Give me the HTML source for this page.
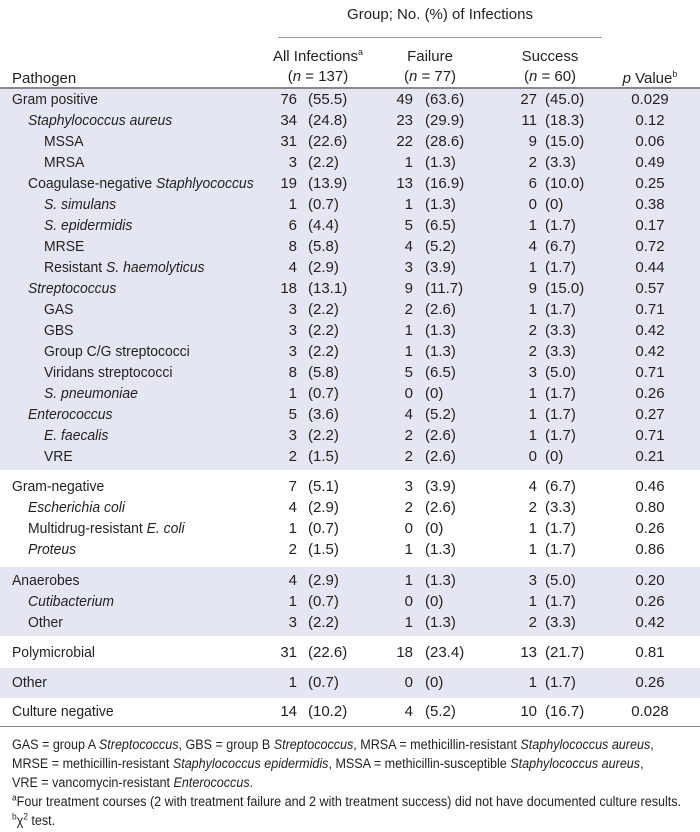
<!DOCTYPE html>
<html><head><meta charset="utf-8"><style>
body{margin:0;background:#fff;}
#c{position:relative;width:700px;height:832px;font-family:"Liberation Sans",sans-serif;color:#231f20;overflow:hidden}
.band{position:absolute;left:0;width:700px;background:#e4e7f1}
.r{position:absolute;left:0;width:700px;height:20px;font-size:15px;line-height:20px;white-space:nowrap}
.r span{position:absolute;top:0}
.n,.i1,.i2{transform:scaleX(0.93);transform-origin:0 0}
.n{left:12px}.i1{left:28px}.i2{left:44px}
.a{right:403px;text-align:right}.ap{left:308px}
.f{right:287px;text-align:right}.fp{left:425px}
.s{right:163px;text-align:right}.sp{left:545px}
.p{left:610px;width:80px;text-align:center}
.h{position:absolute;font-size:15px;line-height:20px;text-align:center;white-space:nowrap}
.fn{position:absolute;left:12px;font-size:13.5px;line-height:19px;white-space:nowrap;transform:scaleX(0.93);transform-origin:0 0}
sup{font-size:9px;line-height:0}
</style></head><body><div id="c">
<div class="h" style="left:278px;width:324px;top:5px">Group; No. (%) of Infections</div>
<div style="position:absolute;left:278px;width:324px;top:37px;height:1px;background:#999"></div>
<div class="h" style="left:258px;width:120px;top:47px">All Infections<sup>a</sup><br>(<i>n</i> = 137)</div>
<div class="h" style="left:380px;width:100px;top:47px">Failure<br>(<i>n</i> = 77)</div>
<div class="h" style="left:500px;width:100px;top:47px">Success<br>(<i>n</i> = 60)</div>
<div class="h" style="left:610px;width:80px;top:69px"><i>p</i> Value<sup>b</sup></div>
<div class="h" style="left:12px;top:69px;text-align:left">Pathogen</div>
<div style="position:absolute;left:0;width:700px;top:87px;height:2px;background:#888"></div>
<div class="band" style="top:89px;height:381px"></div>
<div class="band" style="top:567px;height:69px"></div>
<div class="band" style="top:668px;height:30px"></div>
<div style="position:absolute;left:0;width:700px;top:726px;height:1px;background:#888"></div>

<div class="r" style="top:90px"><span class="n">Gram positive</span><span class="a">76</span><span class="ap">(55.5)</span><span class="f">49</span><span class="fp">(63.6)</span><span class="s">27</span><span class="sp">(45.0)</span><span class="p">0.029</span></div>
<div class="r" style="top:111px"><span class="i1"><i>Staphylococcus aureus</i></span><span class="a">34</span><span class="ap">(24.8)</span><span class="f">23</span><span class="fp">(29.9)</span><span class="s">11</span><span class="sp">(18.3)</span><span class="p">0.12</span></div>
<div class="r" style="top:132px"><span class="i2">MSSA</span><span class="a">31</span><span class="ap">(22.6)</span><span class="f">22</span><span class="fp">(28.6)</span><span class="s">9</span><span class="sp">(15.0)</span><span class="p">0.06</span></div>
<div class="r" style="top:153px"><span class="i2">MRSA</span><span class="a">3</span><span class="ap">(2.2)</span><span class="f">1</span><span class="fp">(1.3)</span><span class="s">2</span><span class="sp">(3.3)</span><span class="p">0.49</span></div>
<div class="r" style="top:174px"><span class="i1">Coagulase-negative <i>Staphlyococcus</i></span><span class="a">19</span><span class="ap">(13.9)</span><span class="f">13</span><span class="fp">(16.9)</span><span class="s">6</span><span class="sp">(10.0)</span><span class="p">0.25</span></div>
<div class="r" style="top:195px"><span class="i2"><i>S. simulans</i></span><span class="a">1</span><span class="ap">(0.7)</span><span class="f">1</span><span class="fp">(1.3)</span><span class="s">0</span><span class="sp">(0)</span><span class="p">0.38</span></div>
<div class="r" style="top:216px"><span class="i2"><i>S. epidermidis</i></span><span class="a">6</span><span class="ap">(4.4)</span><span class="f">5</span><span class="fp">(6.5)</span><span class="s">1</span><span class="sp">(1.7)</span><span class="p">0.17</span></div>
<div class="r" style="top:237px"><span class="i2">MRSE</span><span class="a">8</span><span class="ap">(5.8)</span><span class="f">4</span><span class="fp">(5.2)</span><span class="s">4</span><span class="sp">(6.7)</span><span class="p">0.72</span></div>
<div class="r" style="top:258px"><span class="i2">Resistant <i>S. haemolyticus</i></span><span class="a">4</span><span class="ap">(2.9)</span><span class="f">3</span><span class="fp">(3.9)</span><span class="s">1</span><span class="sp">(1.7)</span><span class="p">0.44</span></div>
<div class="r" style="top:279px"><span class="i1"><i>Streptococcus</i></span><span class="a">18</span><span class="ap">(13.1)</span><span class="f">9</span><span class="fp">(11.7)</span><span class="s">9</span><span class="sp">(15.0)</span><span class="p">0.57</span></div>
<div class="r" style="top:300px"><span class="i2">GAS</span><span class="a">3</span><span class="ap">(2.2)</span><span class="f">2</span><span class="fp">(2.6)</span><span class="s">1</span><span class="sp">(1.7)</span><span class="p">0.71</span></div>
<div class="r" style="top:321px"><span class="i2">GBS</span><span class="a">3</span><span class="ap">(2.2)</span><span class="f">1</span><span class="fp">(1.3)</span><span class="s">2</span><span class="sp">(3.3)</span><span class="p">0.42</span></div>
<div class="r" style="top:342px"><span class="i2">Group C/G streptococci</span><span class="a">3</span><span class="ap">(2.2)</span><span class="f">1</span><span class="fp">(1.3)</span><span class="s">2</span><span class="sp">(3.3)</span><span class="p">0.42</span></div>
<div class="r" style="top:363px"><span class="i2">Viridans streptococci</span><span class="a">8</span><span class="ap">(5.8)</span><span class="f">5</span><span class="fp">(6.5)</span><span class="s">3</span><span class="sp">(5.0)</span><span class="p">0.71</span></div>
<div class="r" style="top:384px"><span class="i2"><i>S. pneumoniae</i></span><span class="a">1</span><span class="ap">(0.7)</span><span class="f">0</span><span class="fp">(0)</span><span class="s">1</span><span class="sp">(1.7)</span><span class="p">0.26</span></div>
<div class="r" style="top:405px"><span class="i1"><i>Enterococcus</i></span><span class="a">5</span><span class="ap">(3.6)</span><span class="f">4</span><span class="fp">(5.2)</span><span class="s">1</span><span class="sp">(1.7)</span><span class="p">0.27</span></div>
<div class="r" style="top:426px"><span class="i2"><i>E. faecalis</i></span><span class="a">3</span><span class="ap">(2.2)</span><span class="f">2</span><span class="fp">(2.6)</span><span class="s">1</span><span class="sp">(1.7)</span><span class="p">0.71</span></div>
<div class="r" style="top:447px"><span class="i2">VRE</span><span class="a">2</span><span class="ap">(1.5)</span><span class="f">2</span><span class="fp">(2.6)</span><span class="s">0</span><span class="sp">(0)</span><span class="p">0.21</span></div>

<div class="r" style="top:477px"><span class="n">Gram-negative</span><span class="a">7</span><span class="ap">(5.1)</span><span class="f">3</span><span class="fp">(3.9)</span><span class="s">4</span><span class="sp">(6.7)</span><span class="p">0.46</span></div>
<div class="r" style="top:498px"><span class="i1"><i>Escherichia coli</i></span><span class="a">4</span><span class="ap">(2.9)</span><span class="f">2</span><span class="fp">(2.6)</span><span class="s">2</span><span class="sp">(3.3)</span><span class="p">0.80</span></div>
<div class="r" style="top:519px"><span class="i1">Multidrug-resistant <i>E. coli</i></span><span class="a">1</span><span class="ap">(0.7)</span><span class="f">0</span><span class="fp">(0)</span><span class="s">1</span><span class="sp">(1.7)</span><span class="p">0.26</span></div>
<div class="r" style="top:540px"><span class="i1"><i>Proteus</i></span><span class="a">2</span><span class="ap">(1.5)</span><span class="f">1</span><span class="fp">(1.3)</span><span class="s">1</span><span class="sp">(1.7)</span><span class="p">0.86</span></div>

<div class="r" style="top:571px"><span class="n">Anaerobes</span><span class="a">4</span><span class="ap">(2.9)</span><span class="f">1</span><span class="fp">(1.3)</span><span class="s">3</span><span class="sp">(5.0)</span><span class="p">0.20</span></div>
<div class="r" style="top:592px"><span class="i1"><i>Cutibacterium</i></span><span class="a">1</span><span class="ap">(0.7)</span><span class="f">0</span><span class="fp">(0)</span><span class="s">1</span><span class="sp">(1.7)</span><span class="p">0.26</span></div>
<div class="r" style="top:613px"><span class="i1">Other</span><span class="a">3</span><span class="ap">(2.2)</span><span class="f">1</span><span class="fp">(1.3)</span><span class="s">2</span><span class="sp">(3.3)</span><span class="p">0.42</span></div>

<div class="r" style="top:643px"><span class="n">Polymicrobial</span><span class="a">31</span><span class="ap">(22.6)</span><span class="f">18</span><span class="fp">(23.4)</span><span class="s">13</span><span class="sp">(21.7)</span><span class="p">0.81</span></div>
<div class="r" style="top:673px"><span class="n">Other</span><span class="a">1</span><span class="ap">(0.7)</span><span class="f">0</span><span class="fp">(0)</span><span class="s">1</span><span class="sp">(1.7)</span><span class="p">0.26</span></div>
<div class="r" style="top:702px"><span class="n">Culture negative</span><span class="a">14</span><span class="ap">(10.2)</span><span class="f">4</span><span class="fp">(5.2)</span><span class="s">10</span><span class="sp">(16.7)</span><span class="p">0.028</span></div>

<div class="fn" style="top:735px">GAS = group A <i>Streptococcus</i>, GBS = group B <i>Streptococcus</i>, MRSA = methicillin-resistant <i>Staphylococcus aureus</i>,</div>
<div class="fn" style="top:754px">MRSE = methicillin-resistant <i>Staphylococcus epidermidis</i>, MSSA = methicillin-susceptible <i>Staphylococcus aureus</i>,</div>
<div class="fn" style="top:773px">VRE = vancomycin-resistant <i>Enterococcus</i>.</div>
<div class="fn" style="top:792px"><sup>a</sup>Four treatment courses (2 with treatment failure and 2 with treatment success) did not have documented culture results.</div>
<div class="fn" style="top:811px"><sup>b</sup>χ<sup>2</sup> test.</div>
</div></body></html>
